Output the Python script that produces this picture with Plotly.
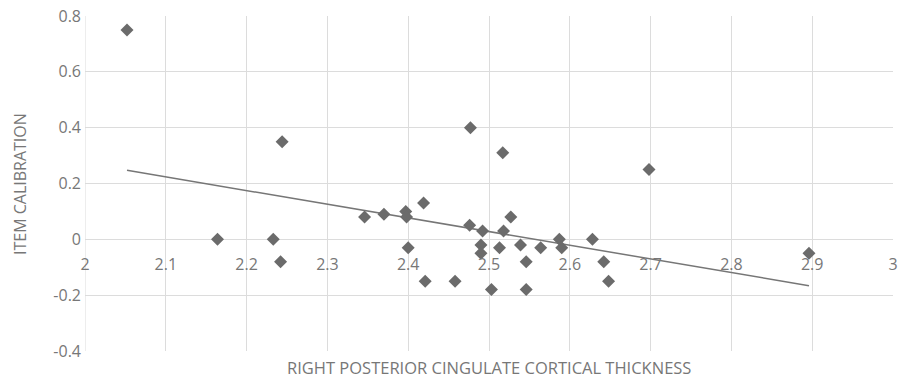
import numpy as np
import plotly.graph_objects as go

# Data
thickness = [2.052, 2.164, 2.233, 2.242, 2.244, 2.346, 2.370, 2.397, 2.398, 2.400,
             2.419, 2.421, 2.458, 2.477, 2.476, 2.490, 2.492, 2.490, 2.503, 2.513,
             2.517, 2.518, 2.527, 2.539, 2.546, 2.546, 2.564, 2.587, 2.590, 2.628,
             2.642, 2.648, 2.698, 2.896]
calibration = [0.75, 0.00, 0.00, -0.08, 0.35, 0.08, 0.09, 0.10, 0.08, -0.03,
               0.13, -0.15, -0.15, 0.40, 0.05, -0.02, 0.03, -0.05, -0.18, -0.03,
               0.31, 0.03, 0.08, -0.02, -0.08, -0.18, -0.03, 0.00, -0.03, 0.00,
               -0.08, -0.15, 0.25, -0.05]
x_ticks = [2, 2.1, 2.2, 2.3, 2.4, 2.5, 2.6, 2.7, 2.8, 2.9, 3]
x_tick_labels = ["2", "2.1", "2.2", "2.3", "2.4", "2.5", "2.6", "2.7", "2.8", "2.9", "3"]
y_ticks = [-0.4, -0.2, 0, 0.2, 0.4, 0.6, 0.8]
y_tick_labels = ["-0.4", "-0.2", "0", "0.2", "0.4", "0.6", "0.8"]

# Linear trendline (least squares) computed from the data
slope, intercept = np.polyfit(thickness, calibration, 1)
trend_x = [min(thickness), max(thickness)]
trend_y = [slope * v + intercept for v in trend_x]

FONT = "Open Sans"
TXT = "#777777"
GRID = "#dcdcdc"

fig = go.Figure()
fig.add_trace(go.Scatter(
    x=trend_x, y=trend_y, mode="lines",
    line=dict(color="#767676", width=1.5), hoverinfo="skip", showlegend=False))
fig.add_trace(go.Scatter(
    x=thickness, y=calibration, mode="markers",
    marker=dict(symbol="diamond", size=10, color="#6b6b6b"), showlegend=False))

fig.update_layout(
    width=898, height=385,
    margin=dict(l=85, r=5, t=16, b=34),
    paper_bgcolor="white", plot_bgcolor="white",
    font=dict(family=FONT, color=TXT),
    xaxis=dict(range=[2, 3], tickvals=x_ticks, ticktext=x_tick_labels,
               showgrid=True, gridcolor=GRID, gridwidth=1, zeroline=False,
               showline=False, anchor="free", position=1/3, automargin=False,
               ticks="outside", ticklen=10, tickcolor="rgba(0,0,0,0)",
               tickfont=dict(size=16, color=TXT, family=FONT)),
    yaxis=dict(range=[-0.4, 0.8], tickvals=y_ticks, ticktext=y_tick_labels,
               showgrid=True, gridcolor=GRID, gridwidth=1, zeroline=True,
               zerolinecolor=GRID, zerolinewidth=1, showline=False, automargin=False,
               ticks="", ticklabelstandoff=3,
               tickfont=dict(size=16, color=TXT, family=FONT)),
    shapes=[dict(type="line", xref="x", yref="y", x0=2, x1=2, y0=-0.4, y1=0.8,
                 line=dict(color=GRID, width=1), layer="below")],
    annotations=[
        dict(text="RIGHT POSTERIOR CINGULATE CORTICAL THICKNESS",
             x=0.5, xref="paper", y=-16/335, yref="paper",
             xanchor="center", yanchor="middle", showarrow=False,
             font=dict(size=16.5, color=TXT, family=FONT)),
        dict(text="ITEM CALIBRATION", textangle=-90,
             x=-65/808, xref="paper", y=(351-184)/335, yref="paper",
             xanchor="center", yanchor="middle", showarrow=False,
             font=dict(size=16, color=TXT, family=FONT)),
    ],
)

fig.write_html("out.html", config={"displayModeBar": False},
               post_script="document.body.style.margin='0';document.body.style.overflow='hidden';")
